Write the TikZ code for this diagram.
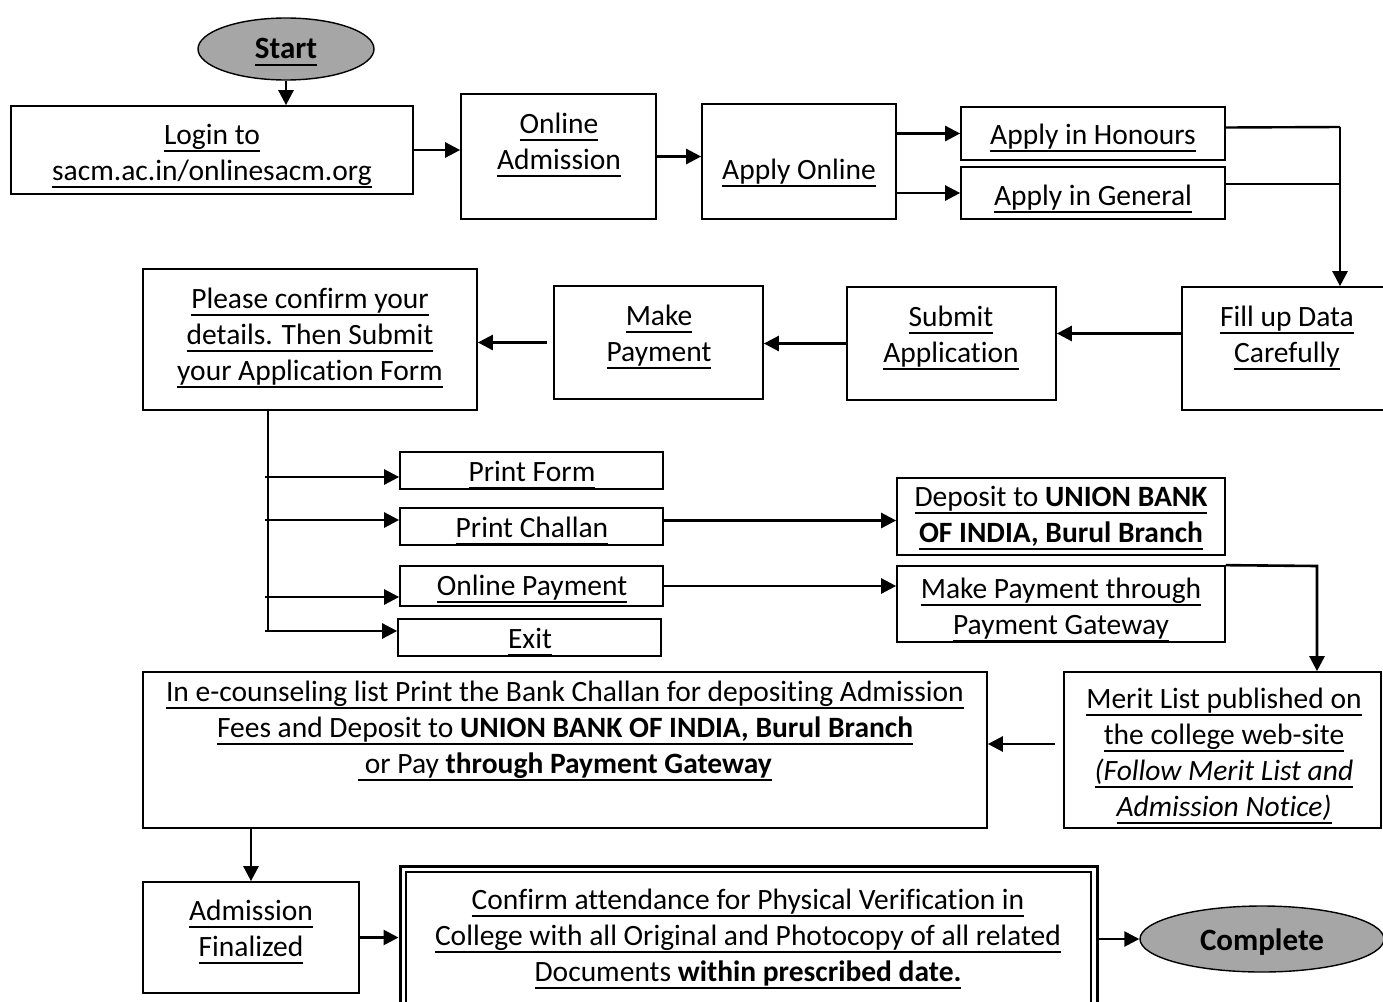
\documentclass[tikz,border=0pt]{standalone}
\usepackage{fontspec}
\setmainfont{Carlito}[Ligatures=NoCommon]
\usetikzlibrary{arrows.meta,fit,calc,shapes.geometric}
\newsavebox{\myulbox}
\newcommand{\myul}[1]{\sbox{\myulbox}{#1}\rlap{\rule[-7.4pt]{\wd\myulbox}{1.7pt}}\usebox{\myulbox}}
\begin{document}
\begin{tikzpicture}[x=1pt,y=-1pt,
  box/.style={draw, line width=1.7pt, inner sep=0pt},
  txt/.style={align=center, font=\fontsize{29.5}{36}\selectfont, inner sep=0pt},
  ttxt/.style={align=center, font=\fontsize{31}{36}\selectfont\bfseries, inner sep=0pt},
  arr/.style={line width=2.6pt, -{Triangle[length=15pt,width=15pt]}},
  ln/.style={line width=2.4pt},
  term/.style={ellipse, draw, line width=1.4pt, fill=black!35, inner sep=0pt}]
\useasboundingbox (0,0) rectangle (1383,1001);

% terminals
\node[term, minimum width=176pt, minimum height=62pt] (start) at (286,49) {};
\node[ttxt] (startt) at (286,52) {\myul{Start}};
\node[term, minimum width=244pt, minimum height=66pt] (complete) at (1262,939) {};
\node[ttxt] (completet) at (1262,942) {Complete};

% boxes
\node[box, fit={(11,106) (413,194)}] (login) {};
\node[box, fit={(461,94) (656,219)}] (oa) {};
\node[box, fit={(702,104) (896,219)}] (ao) {};
\node[box, fit={(961,107) (1225,160)}] (hon) {};
\node[box, fit={(961,167) (1225,219)}] (gen) {};
\node[box, fit={(1182,287) (1395,410)}] (fill) {};
\node[box, fit={(847,287) (1056,400)}] (sub) {};
\node[box, fit={(554,286) (763,399)}] (mp) {};
\node[box, fit={(143,269) (477,410)}] (pcf) {};
\node[box, fit={(400,452) (663,489)}] (pf) {};
\node[box, fit={(400,508) (663,545)}] (pch) {};
\node[box, fit={(400,566) (663,606)}] (op) {};
\node[box, fit={(398,619) (661,656)}] (ex) {};
\node[box, fit={(897,478) (1225,555)}] (dep) {};
\node[box, fit={(897,566) (1225,642)}] (mpt) {};
\node[box, fit={(1064,672) (1381,828)}] (merit) {};
\node[box, fit={(143,672) (987,828)}] (ec) {};
\node[box, fit={(143,882) (359,993)}] (af) {};
\node[box, line width=3pt, fit={(400,866) (1097,1015)}] (conf) {};
\node[box, line width=1.4pt, fit={(406,872) (1091,1009)}] (confin) {};

% texts
\node[txt] (logint) at (212,156) {\myul{Login to}\\\myul{sacm.ac.in/onlinesacm.org}};
\node[txt] (oat) at (559,145) {\myul{Online}\\\myul{Admission}};
\node[txt] (aot) at (799,173) {\myul{Apply Online}};
\node[txt] (hont) at (1093,138) {\myul{Apply in Honours}};
\node[txt] (gent) at (1093,199) {\myul{Apply in General}};
\node[txt] (fillt) at (1287,338) {\myul{Fill up Data}\\\myul{Carefully}};
\node[txt] (subt) at (951,338) {\myul{Submit}\\\myul{Application}};
\node[txt] (mpt0) at (659,337) {\myul{Make}\\\myul{Payment}};
\node[txt] (pcft) at (310,338) {\myul{Please confirm your}\\\myul{details. Then Submit}\\\myul{your Application Form}};
\node[txt] (pft) at (532,475) {\myul{Print Form}};
\node[txt] (pcht) at (532,531) {\myul{Print Challan}};
\node[txt] (opt) at (532,589) {\myul{Online Payment}};
\node[txt] (ext) at (530,642) {\myul{Exit}};
\node[txt] (dept) at (1061,518) {\myul{Deposit to \textbf{UNION BANK}}\\\myul{\textbf{OF INDIA, Burul Branch}}};
\node[txt] (mptt) at (1061,610) {\myul{Make Payment through}\\\myul{Payment Gateway}};
\node[txt] (meritt) at (1224,756) {\myul{Merit List published on}\\\myul{the college web-site}\\\myul{\textit{(Follow Merit List and}}\\\myul{\textit{Admission Notice)}}};
\node[txt] (ect) at (565,731) {\myul{In e-counseling list Print the Bank Challan for depositing Admission}\\\myul{Fees and Deposit to \textbf{UNION BANK OF INDIA, Burul Branch}}\\\myul{\ or Pay \textbf{through Payment Gateway}}};
\node[txt] (aft) at (251,932) {\myul{Admission}\\\myul{Finalized}};
\node[txt] (conft) at (748,939) {\myul{Confirm attendance for Physical Verification in}\\\myul{College with all Original and Photocopy of all related}\\\myul{Documents \textbf{within prescribed date.}}};

% connectors
\draw[arr] (start.south) -- (start.south |- login.north);
\draw[arr] (login.east) -- (login.east -| oa.west);
\draw[arr] (oa.east) -- (oa.east -| ao.west);
\draw[arr] (ao.east |- hon.west) -- (hon.west);
\draw[arr] (ao.east |- gen.west) -- (gen.west);
\coordinate (j1) at (1340,127);
\draw[ln] ([yshift=6pt]hon.east) -- (j1);
\draw[ln] ([yshift=9pt]gen.east) -- ([yshift=9pt]gen.east -| j1);
\draw[arr] (j1) -- (j1 |- fill.north);
\draw[arr] ([yshift=15pt]fill.west) -- ([yshift=15pt]fill.west -| sub.east);
\draw[arr] (sub.west) -- (sub.west -| mp.east);
\draw[arr] ([xshift=-6pt]mp.west) -- (mp.west -| pcf.east);
\coordinate (tb) at (268,632);
\draw[ln] (pcf.south -| tb) -- (tb);
\coordinate (a1) at (265,477);
\coordinate (a2) at (265,520);
\coordinate (a3) at (265,597);
\coordinate (a4) at (265,631);
\draw[arr] (a1) -- (a1 -| pf.west);
\draw[arr] (a2) -- (a2 -| pch.west);
\draw[arr] (a3) -- (a3 -| op.west);
\draw[arr] (a4) -- (a4 -| ex.west);
\draw[arr] ([yshift=6pt]pch.east) -- ([yshift=6pt]pch.east -| dep.west);
\draw[arr] (op.east) -- (op.east -| mpt.west);
\coordinate (k) at (1317,566);
\draw[arr] (mpt.north east) -- (k) -- (k |- merit.north);
\draw[arr] ([xshift=-8pt,yshift=6pt]merit.west) -- ([yshift=6pt]merit.west -| ec.east);
\draw[arr] (ec.south -| af.north) -- (af.north);
\draw[arr] (af.east) -- (af.east -| conf.west);
\draw[arr] (conf.east |- complete.west) -- (complete.west);
\end{tikzpicture}
\end{document}
